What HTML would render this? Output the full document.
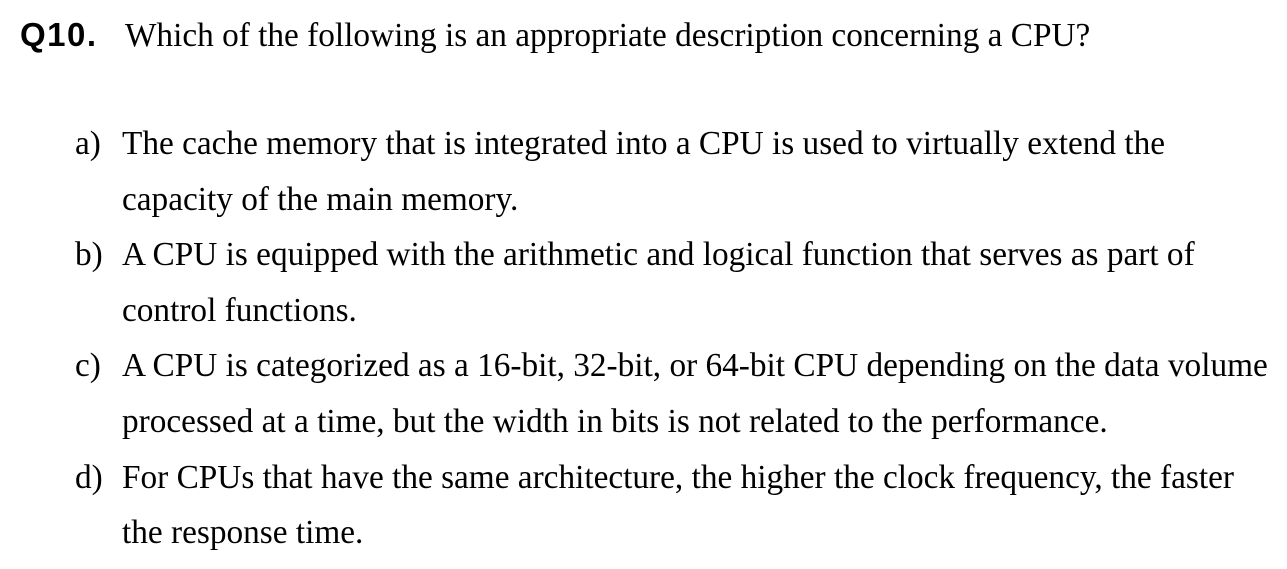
<!DOCTYPE html>
<html><head><style>
html,body{margin:0;padding:0;background:#fff;width:1287px;height:569px;overflow:hidden}
.t{position:absolute;font-family:"Liberation Serif",serif;font-size:33.3px;line-height:40px;color:#000;white-space:nowrap}
.q{position:absolute;font-family:"Liberation Sans",sans-serif;font-weight:bold;font-size:33px;letter-spacing:1.5px;line-height:40px;left:20px;top:15px}
</style></head><body>
<div class="q">Q10.</div>
<div class="t" style="left:125px;top:16px">Which of the following is an appropriate description concerning a CPU?</div>
<div class="t" style="left:75px;top:124px">a)</div>
<div class="t" style="left:122px;top:124px">The cache memory that is integrated into a CPU is used to virtually extend the</div>
<div class="t" style="left:122px;top:180px">capacity of the main memory.</div>
<div class="t" style="left:75px;top:235px">b)</div>
<div class="t" style="left:122px;top:235px">A CPU is equipped with the arithmetic and logical function that serves as part of</div>
<div class="t" style="left:122px;top:291px">control functions.</div>
<div class="t" style="left:75px;top:346px">c)</div>
<div class="t" style="left:122px;top:346px">A CPU is categorized as a 16-bit, 32-bit, or 64-bit CPU depending on the data volume</div>
<div class="t" style="left:122px;top:402px">processed at a time, but the width in bits is not related to the performance.</div>
<div class="t" style="left:75px;top:458px">d)</div>
<div class="t" style="left:122px;top:458px">For CPUs that have the same architecture, the higher the clock frequency, the faster</div>
<div class="t" style="left:122px;top:513px">the response time.</div>
</body></html>
